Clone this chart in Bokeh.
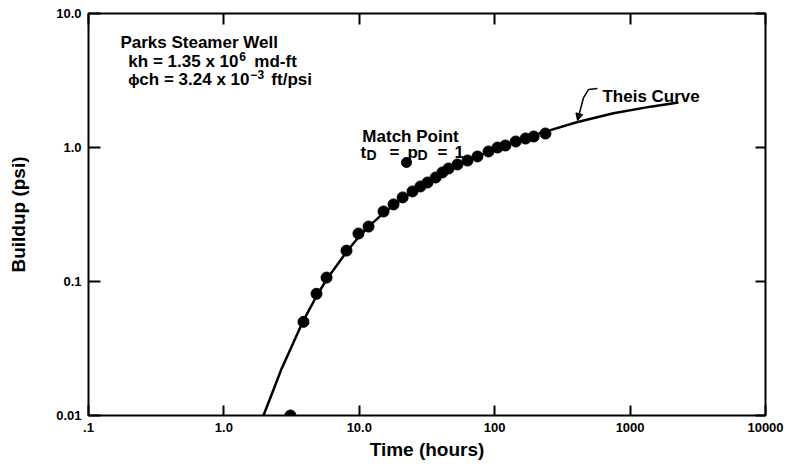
from bokeh.plotting import figure
from bokeh.models import Range1d, FixedTicker, LogAxis, Arrow, NormalHead
from bokeh.core.properties import value
from bokeh.embed import file_html
from bokeh.resources import INLINE

# Measured buildup (psi) against time (hours)
time_hours = [3.10, 3.87, 4.83, 5.73, 8.04, 9.86, 11.7, 15.1, 17.9, 20.9, 24.7, 28.3,
              31.9, 36.6, 41.1, 45.6, 53.1, 63.0, 74.6, 90.0, 105, 120, 143, 169, 194, 237]
buildup_psi = [0.010, 0.050, 0.081, 0.107, 0.170, 0.228, 0.257, 0.333, 0.376, 0.424, 0.470, 0.512,
               0.548, 0.597, 0.651, 0.697, 0.747, 0.800, 0.857, 0.934, 1.00, 1.035, 1.109, 1.167, 1.208, 1.272]

# Theis type curve laid over the data
theis_t = [1.96, 2.32, 2.65, 3.0, 3.87, 4.83, 5.73, 8.04, 9.86, 11.7, 15.1, 20.9, 28.3, 36.6, 45.6,
           63.0, 90.0, 120, 169, 258, 409, 754, 1416, 2277]
theis_p = [0.010, 0.0155, 0.0220, 0.0290, 0.0513, 0.0776, 0.1035, 0.166, 0.214, 0.257, 0.324, 0.417,
           0.507, 0.592, 0.673, 0.794, 0.933, 1.047, 1.189, 1.349, 1.549, 1.799, 2.018, 2.168]

# Match point (tD = pD = 1)
match_t = [22.3]
match_p = [0.773]

x_ticks = [0.1, 1, 10, 100, 1000, 10000]
x_tick_labels = [".1", "1.0", "10.0", "100", "1000", "10000"]
y_ticks = [0.01, 0.1, 1, 10]
y_tick_labels = ["0.01", "0.1", "1.0", "10.0"]

FONT = "Liberation Sans"

p = figure(width=800, height=466, x_axis_type="log", y_axis_type="log",
           x_range=Range1d(0.1, 10000), y_range=Range1d(0.01, 10),
           output_backend="svg", toolbar_location=None,
           min_border_left=88, min_border_right=35, min_border_top=13, min_border_bottom=51)
p.background_fill_color = "white"
p.border_fill_color = "white"
p.outline_line_color = "black"
p.outline_line_width = 2
p.xgrid.grid_line_color = None
p.ygrid.grid_line_color = None


def style_axis(ax, ticks, labels, tick_len):
    ax.ticker = FixedTicker(ticks=ticks)
    ax.major_label_overrides = {t: s for t, s in zip(ticks, labels)}
    ax.axis_line_color = None
    ax.major_tick_in = tick_len
    ax.major_tick_out = 0
    ax.major_tick_line_color = "black"
    ax.major_tick_line_width = 2
    ax.minor_tick_line_color = None
    ax.major_label_text_font = FONT
    ax.major_label_text_font_style = "bold"
    ax.major_label_text_font_size = "13px"
    ax.major_label_text_color = "black"
    ax.axis_label_text_font = FONT
    ax.axis_label_text_font_style = "bold"
    ax.axis_label_text_font_size = "19px"
    ax.axis_label_text_color = "black"


xa = p.xaxis[0]
style_axis(xa, x_ticks, x_tick_labels, 10)
xa.axis_label = "Time (hours)"
xa.major_label_standoff = 7
xa.axis_label_standoff = 4

ya = p.yaxis[0]
style_axis(ya, y_ticks, y_tick_labels, 12)
ya.axis_label = "Buildup (psi)"
ya.major_label_standoff = 7
ya.axis_label_standoff = 24

# unlabeled tick axes along the top and right edges
top = LogAxis()
style_axis(top, x_ticks, [""] * len(x_ticks), 11)
top.major_label_text_font_size = "0px"
top.major_label_standoff = 0
p.add_layout(top, "above")

right = LogAxis()
style_axis(right, y_ticks, [""] * len(y_ticks), 10)
right.major_label_text_font_size = "0px"
right.major_label_standoff = 0
p.add_layout(right, "right")

# curve and data
p.line(theis_t, theis_p, line_color="black", line_width=2.5)
p.scatter(time_hours, buildup_psi, size=11, color="black")
p.scatter(match_t, match_p, size=10, color="black")

txt = dict(text_font=value(FONT), text_font_style="bold", text_color="black",
           text_baseline="alphabetic")


def text_run(x, y, pieces, dx, dy, sizes, align="left"):
    n = len(pieces)
    p.text(x=[x] * n, y=[y] * n, text=pieces, x_offset=dx, y_offset=dy,
           text_font_size=sizes, text_align=align, **txt)


# well description, with superscript exponents
text_run(0.172, 6.075, ["Parks Steamer Well"], [0], [0], ["17px"])
text_run(0.197, 4.38, ["kh = 1.35 x 10", "6", "md-ft"],
         [0, 111, 126], [0, -5, 0], ["17px", "12px", "17px"])
text_run(0.197, 3.22, ["\u03d5", "ch = 3.24 x 10", "\u22123", "ft/psi"],
         [0, 11, 122, 143], [0, 0, -5, 0], ["15px", "17px", "12px", "17px"])

# match point caption: tD = pD = 1
text_run(23.9, 1.208, ["Match Point"], [0], [0], ["17px"], align="center")
text_run(10.2, 0.918, ["t", "D", "=", "p", "D", "=", "1"],
         [0, 6, 29, 47, 57, 77, 94], [0, 3, 0, 0, 3, 0, 0],
         ["17px", "14px", "17px", "17px", "14px", "17px", "17px"])

text_run(625, 2.40, ["Theis Curve"], [0], [0], ["17px"])

# leader from the curve label to the curve
p.line([574, 493, 453], [2.757, 2.707, 2.36], line_color="black", line_width=1.5)
p.add_layout(Arrow(end=NormalHead(size=7, fill_color="black", line_color="black"),
                   x_start=453, y_start=2.36, x_end=409, y_end=1.59,
                   line_color="black", line_width=1.5))

open("out.html", "w").write(file_html(p, INLINE))
